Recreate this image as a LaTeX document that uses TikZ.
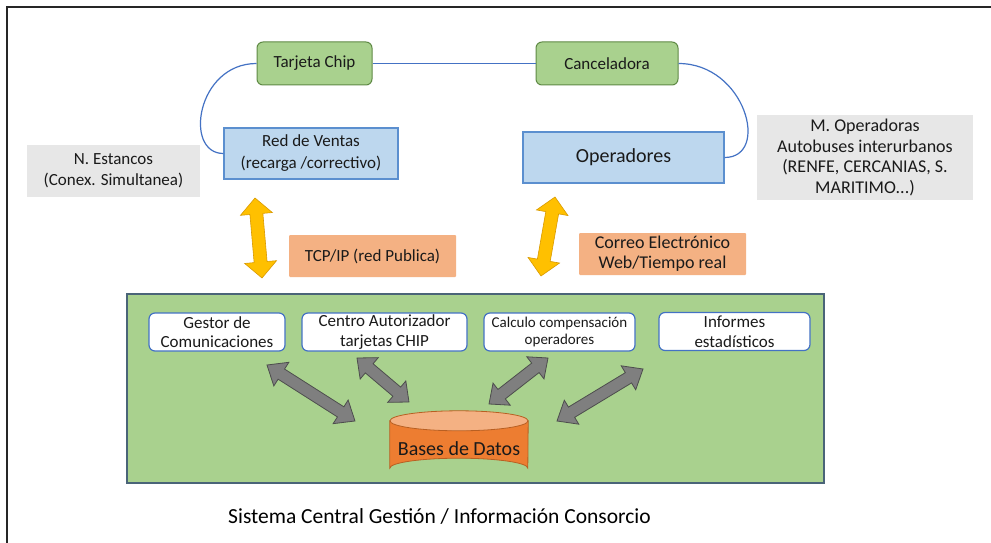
\documentclass[tikz,border=0pt]{standalone}
\usepackage{fontspec}
\setmainfont{Carlito}
\usetikzlibrary{calc}

\definecolor{chipfill}{HTML}{A9D18E}
\definecolor{chipline}{HTML}{5F8A45}
\definecolor{bluefill}{HTML}{BDD7EE}
\definecolor{blueline}{HTML}{5B8FCF}
\definecolor{greyfill}{HTML}{E7E7E7}
\definecolor{labelfill}{HTML}{F4B183}
\definecolor{panelfill}{HTML}{A9D18E}
\definecolor{panelline}{HTML}{4A6478}
\definecolor{innerline}{HTML}{4472C4}
\definecolor{dbfill}{HTML}{ED7D31}
\definecolor{dbtop}{HTML}{F4B183}
\definecolor{dbline}{HTML}{B85F22}
\definecolor{linkyellow}{HTML}{FFC000}
\definecolor{linkyellowline}{HTML}{D99A00}
\definecolor{linkgrey}{HTML}{7F7F7F}
\definecolor{linkgreyline}{HTML}{4D4D4D}
\definecolor{curveblue}{HTML}{4472C4}
\definecolor{txt}{HTML}{1A1A1A}

\newcommand\fsz[2]{\fontsize{#1}{#2}\selectfont}

% double-headed block arrow: style, from, to, half shaft, half head, head length
\newcommand\fatarrow[6]{%
  \path[#1] let \p1=(#2), \p2=(#3),
      \n1={atan2(\y2-\y1,\x2-\x1)}, \n2={veclen(\x2-\x1,\y2-\y1)} in
       ([shift={(\p1)},rotate=\n1]0pt,0pt)
    -- ([shift={(\p1)},rotate=\n1]#6pt,#5pt)
    -- ([shift={(\p1)},rotate=\n1]#6pt,#4pt)
    -- ([shift={(\p1)},rotate=\n1]\n2-#6pt,#4pt)
    -- ([shift={(\p1)},rotate=\n1]\n2-#6pt,#5pt)
    -- ([shift={(\p1)},rotate=\n1]\n2,0pt)
    -- ([shift={(\p1)},rotate=\n1]\n2-#6pt,-#5pt)
    -- ([shift={(\p1)},rotate=\n1]\n2-#6pt,-#4pt)
    -- ([shift={(\p1)},rotate=\n1]#6pt,-#4pt)
    -- ([shift={(\p1)},rotate=\n1]#6pt,-#5pt)
    -- cycle;}

\begin{document}
\begin{tikzpicture}[x=1pt,y=-1pt,
  every node/.style={text=txt, align=center, inner sep=0pt},
  chipbox/.style={draw=chipline, fill=chipfill, rounded corners=6pt, line width=1pt, font=\fsz{17}{20}},
  bluebox/.style={draw=blueline, fill=bluefill, line width=1.2pt},
  greybox/.style={fill=greyfill, font=\fsz{17}{21}},
  tagbox/.style={fill=labelfill, rounded corners=1pt, font=\fsz{17}{20}},
  modbox/.style={draw=innerline, fill=white, rounded corners=6pt, line width=1.2pt, font=\fsz{17}{19.5}},
  yellowlink/.style={fill=linkyellow, draw=linkyellowline, line width=0.6pt, line join=miter},
  greylink/.style={fill=linkgrey, draw=linkgreyline, line width=0.8pt, line join=miter},
  chipcurve/.style={draw=curveblue, line width=1.2pt}]

\useasboundingbox (0,0) rectangle (991,543);
\fill[white] (0,0) rectangle (991,543);

% outer frame (top and left edges)
\draw[line width=2pt, black!85] (7,543) -- (7,7) -- (991,7);

% top row: card and validator
\node[chipbox, minimum width=115pt, minimum height=43pt] (chip) at (314.5,63.5) {Tarjeta Chip};
\node[chipbox, minimum width=142pt, minimum height=43pt] (cancel) at (607,63.5) {Canceladora};

% sales network and operators
\node[bluebox, minimum width=174pt, minimum height=51pt, font=\fsz{17}{22}] (red) at (311,153.5)
  {Red de Ventas\\(recarga /correctivo)};
\node[bluebox, minimum width=201pt, minimum height=51pt, font=\fsz{20}{22}] (oper) at (623.5,157.5)
  {Operadores};

% links between the top boxes
\draw[chipcurve] (chip.east) -- (cancel.west);
\draw[chipcurve] (chip.west) .. controls +(-60,0) and +(-40,0) .. (red.west);
\draw[chipcurve] (cancel.east) .. controls +(67,0) and +(46,0) .. (oper.east);

% side notes
\node[greybox, minimum width=173pt, minimum height=52pt] (estancos) at (113.5,171)
  {N. Estancos\\(Conex. Simultanea)};
\node[greybox, minimum width=216pt, minimum height=85pt, font=\fsz{18}{20.5}] (moper) at (865,157.5)
  {M. Operadoras\\Autobuses interurbanos\\(RENFE, CERCANIAS, S.\\MARITIMO...)};

% communication channels
\node[tagbox, minimum width=167pt, minimum height=42pt] (tcp) at (372.5,256) {TCP/IP (red Publica)};
\node[tagbox, minimum width=167pt, minimum height=42pt, font=\fsz{18}{20}] (mail) at (662.5,254)
  {Correo Electrónico\\Web/Tiempo real};

\coordinate (ya1) at (255,198);
\coordinate (ya2) at (262,278);
\coordinate (yb1) at (555,197);
\coordinate (yb2) at (541,276);
\fatarrow{yellowlink}{ya1}{ya2}{6.5}{16}{16}
\fatarrow{yellowlink}{yb1}{yb2}{6.5}{16}{16}

% central system panel
\node[draw=panelline, fill=panelfill, line width=1.6pt, minimum width=697pt, minimum height=189pt]
  (panel) at (475.5,388.5) {};

\node[modbox, minimum width=136pt, minimum height=38pt] (gestor) at (217,332)
  {Gestor de\\Comunicaciones};
\node[modbox, minimum width=165pt, minimum height=38pt] (centro) at (384.5,332)
  {Centro Autorizador\\tarjetas CHIP};
\node[modbox, minimum width=151pt, minimum height=38pt, font=\fsz{15}{17}] (calc) at (559.5,332)
  {Calculo compensación\\operadores};
\node[modbox, minimum width=151pt, minimum height=38pt] (inf) at (734.5,331.5)
  {Informes\\estadísticos};

% database cylinder
\node[minimum width=138pt, minimum height=67pt] (db) at (459,444.5) {};
\path[fill=dbfill, draw=dbline, line width=0.8pt]
  ($(db.north west)+(0,10)$) -- ($(db.south west)+(0,-10)$)
  arc[start angle=180, end angle=360, x radius=69, y radius=10]
  -- ($(db.north east)+(0,10)$) -- cycle;
\path[fill=dbtop, draw=dbline, line width=0.8pt]
  ($(db.north)+(0,10)$) ellipse[x radius=69, y radius=10];
\node[font=\fsz{20}{22}] (dblabel) at (459,449) {Bases de Datos};

% links between modules and database
\coordinate (g1a) at (267,365);
\coordinate (g1b) at (355,421);
\coordinate (g2a) at (357,358);
\coordinate (g2b) at (409,402);
\coordinate (g3a) at (548,358);
\coordinate (g3b) at (489,404);
\coordinate (g4a) at (643,369);
\coordinate (g4b) at (557,421);
\fatarrow{greylink}{g1a}{g1b}{6}{14}{17}
\fatarrow{greylink}{g2a}{g2b}{6}{14}{16}
\fatarrow{greylink}{g3a}{g3b}{6}{14}{16}
\fatarrow{greylink}{g4a}{g4b}{6}{14}{17}

% caption
\node[font=\fsz{21.5}{24}, text=black] (title) at (439.5,516)
  {Sistema Central Gestión / Información Consorcio};
\end{tikzpicture}
\end{document}
